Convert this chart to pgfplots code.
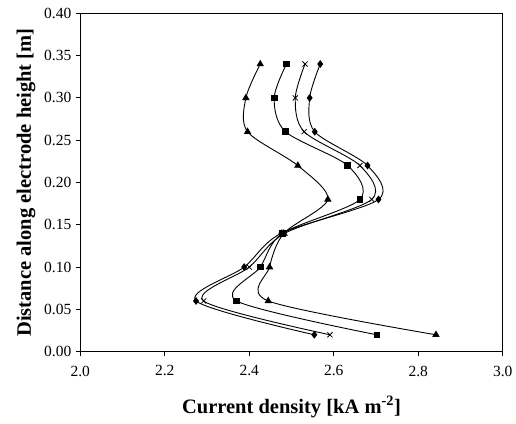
\documentclass[border=0pt]{standalone}
\usepackage{pgfplots}
\pgfplotsset{compat=1.18}
\usepackage{fontspec}
\setmainfont{Liberation Serif}
\begin{document}
\begin{tikzpicture}[x=1pt,y=1pt]
\useasboundingbox (-80.3,-71.3) rectangle (435.7,351.7);
\begin{axis}[
  at={(0,0)}, anchor=south west,
  scale only axis, width=422.4pt, height=338.4pt,
  xmin=2.0, xmax=3.0, ymin=0, ymax=0.40,
  xtick={2.0,2.2,2.4,2.6,2.8,3.0}, ytick={0,0.05,0.10,0.15,0.20,0.25,0.30,0.35,0.40},
  tick align=outside, tick pos=left,
  major tick length=4.5pt,
  /pgf/number format/assume math mode=true,
  xticklabel style={/pgf/number format/fixed, /pgf/number format/fixed zerofill, /pgf/number format/precision=1, yshift=-6pt},
  yticklabel style={/pgf/number format/fixed, /pgf/number format/fixed zerofill, /pgf/number format/precision=2, xshift=-1pt},
  ticklabel style={font=\fontsize{15.5}{17}\selectfont},
  xlabel={\textbf{Current density [kA m\textsuperscript{-2}]}},
  ylabel={\textbf{Distance along electrode height [m]}},
  label style={font=\fontsize{20.5}{23}\selectfont},
  xlabel style={yshift=-13pt},
  ylabel style={yshift=2pt},
  axis line style={line width=0.9pt},
  every tick/.style={black, line width=0.9pt},
  clip=false,
]
\addplot[black, line width=0.9pt, smooth, mark=triangle*, mark size=3.4pt] coordinates {
(2.842,0.02) (2.445,0.06) (2.448,0.10) (2.482,0.14) (2.586,0.18) (2.515,0.22) (2.396,0.26) (2.392,0.30) (2.426,0.34)};
\addplot[black, line width=0.9pt, smooth, mark=square*, mark size=2.8pt] coordinates {
(2.702,0.02) (2.370,0.06) (2.426,0.10) (2.479,0.14) (2.662,0.18) (2.633,0.22) (2.486,0.26) (2.459,0.30) (2.488,0.34)};
\addplot[black, line width=0.9pt, smooth, mark=x, mark size=3.6pt, mark options={line width=0.8pt}] coordinates {
(2.591,0.02) (2.292,0.06) (2.400,0.10) (2.484,0.14) (2.690,0.18) (2.662,0.22) (2.530,0.26) (2.509,0.30) (2.532,0.34)};
\addplot[black, line width=0.9pt, smooth, mark=diamond*, mark size=3.2pt] coordinates {
(2.554,0.02) (2.274,0.06) (2.388,0.10) (2.476,0.14) (2.706,0.18) (2.680,0.22) (2.555,0.26) (2.543,0.30) (2.568,0.34)};
\end{axis}
\end{tikzpicture}
\end{document}
